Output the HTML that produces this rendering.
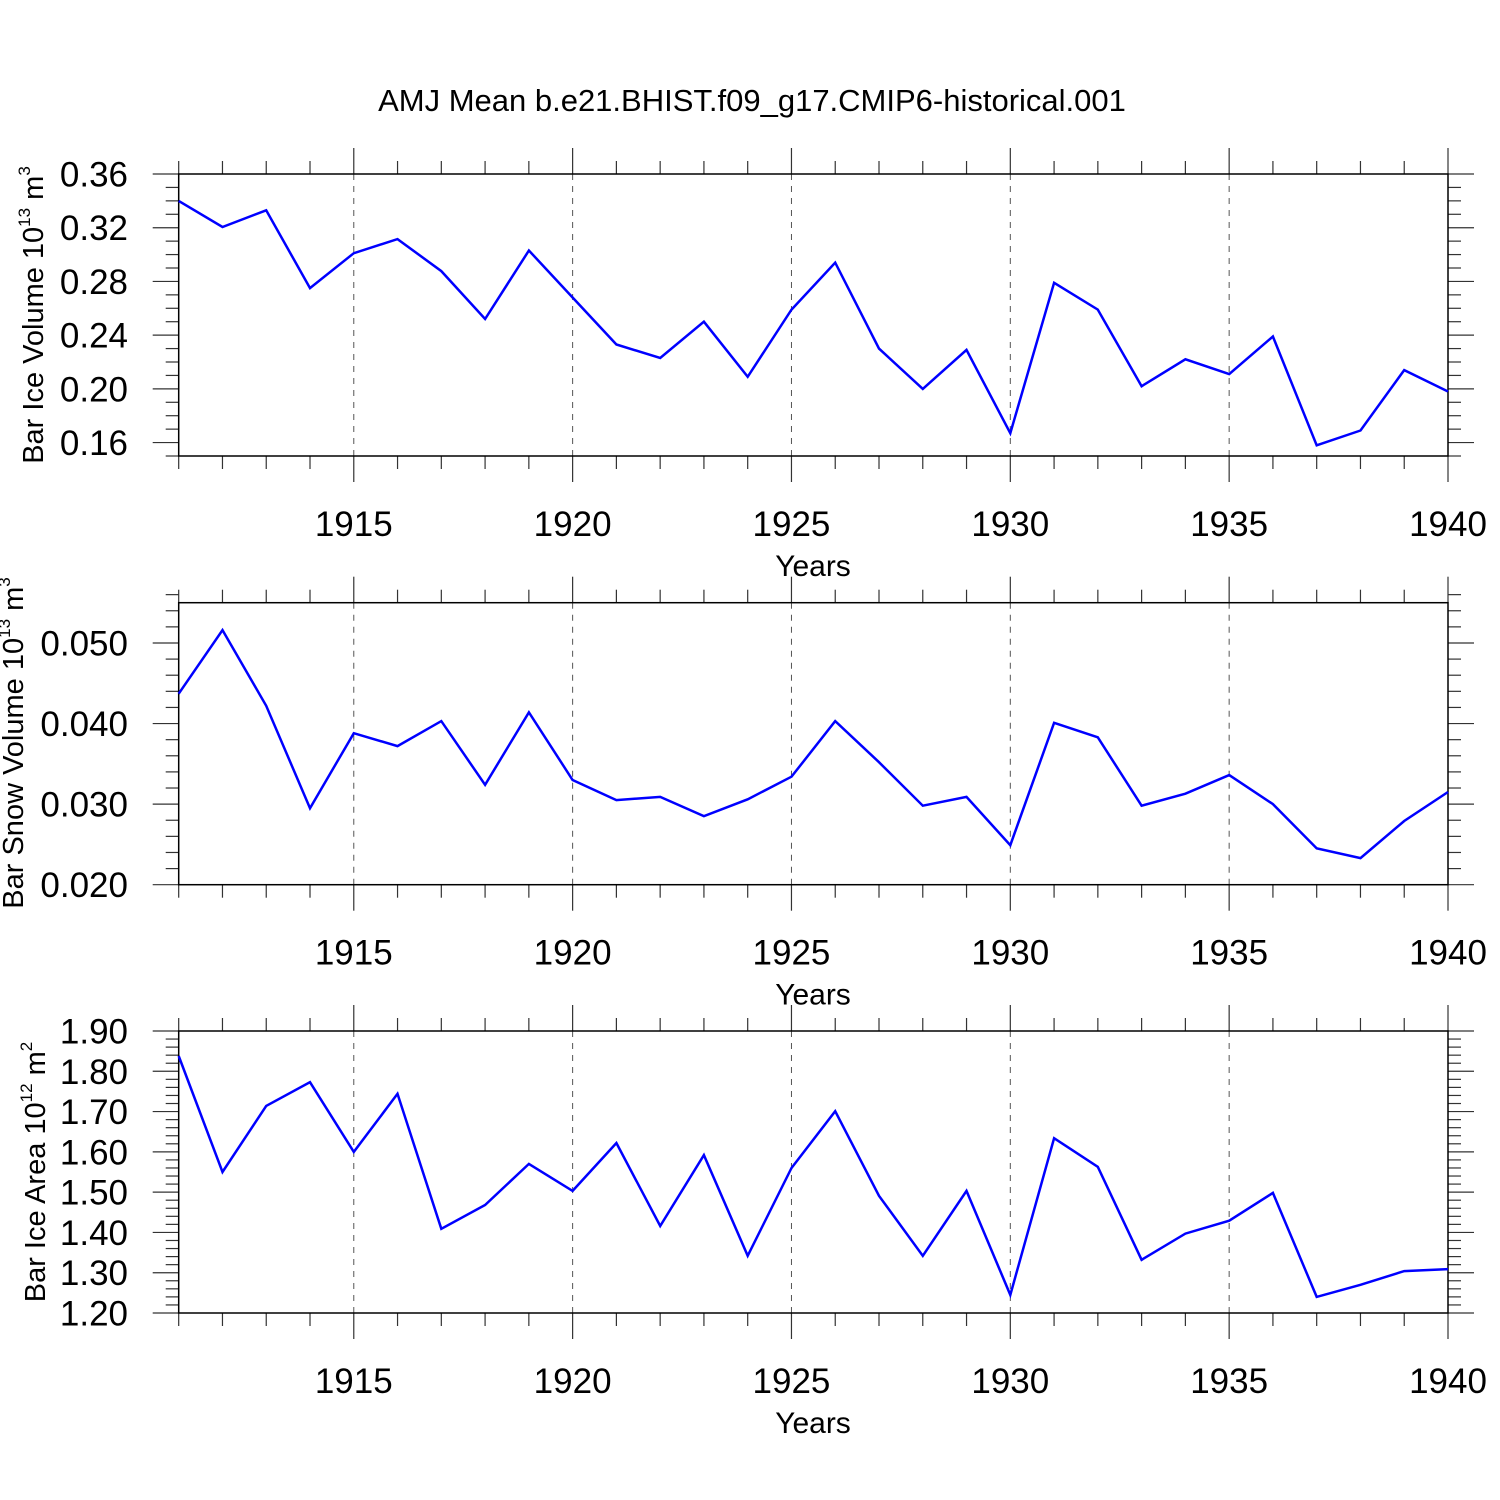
<!DOCTYPE html>
<html><head><meta charset="utf-8"><style>
html,body{margin:0;padding:0;background:#fff;}
svg{display:block;font-family:"Liberation Sans",Arial,sans-serif;}
</style></head><body>
<svg id="c" width="1500" height="1500" viewBox="0 0 1500 1500">
<text x="752" y="111" font-size="31" text-anchor="middle">AMJ Mean b.e21.BHIST.f09_g17.CMIP6-historical.001</text>
</svg>
<script>
const years = [1911,1912,1913,1914,1915,1916,1917,1918,1919,1920,1921,1922,1923,1924,1925,1926,1927,1928,1929,1930,1931,1932,1933,1934,1935,1936,1937,1938,1939,1940];
const iceVolume = [0.340,0.3205,0.333,0.275,0.301,0.3115,0.2877,0.252,0.303,0.268,0.233,0.223,0.250,0.209,0.259,0.294,0.230,0.200,0.229,0.167,0.279,0.259,0.202,0.222,0.211,0.239,0.158,0.169,0.214,0.198];
const snowVolume = [0.0437,0.0516,0.0422,0.0295,0.0388,0.0372,0.0403,0.0324,0.0414,0.0330,0.0305,0.0309,0.0285,0.0306,0.0334,0.0403,0.0352,0.0298,0.0309,0.0249,0.0401,0.0383,0.0298,0.0313,0.0336,0.0300,0.0245,0.0233,0.0279,0.0315];
const iceArea = [1.838,1.550,1.714,1.773,1.600,1.744,1.409,1.468,1.570,1.503,1.622,1.416,1.592,1.342,1.560,1.701,1.491,1.342,1.503,1.245,1.634,1.563,1.332,1.397,1.429,1.498,1.240,1.270,1.304,1.309];
const xTickLabels = [1915,1920,1925,1930,1935,1940];
const iceVolTicks = ["0.16","0.20","0.24","0.28","0.32","0.36"];
const snowVolTicks = ["0.020","0.030","0.040","0.050"];
const iceAreaTicks = ["1.20","1.30","1.40","1.50","1.60","1.70","1.80","1.90"];

const NS="http://www.w3.org/2000/svg";
const svg=document.getElementById('c');
function mk(tag,attrs,parent){const e=document.createElementNS(NS,tag);for(const k in attrs)e.setAttribute(k,attrs[k]);(parent||svg).appendChild(e);return e;}
const X0=178.7,X1=1448;
function xs(yr){return X0+(yr-1911)*(X1-X0)/29;}

function panel(cfg){
  const g=mk('g',{});
  
  
  const ys=v=>cfg.top+(cfg.ymax-v)*(cfg.bot-cfg.top)/(cfg.ymax-cfg.ymin);
  xTickLabels.forEach(yr=>{
    if(yr===1940)return;
    const l=mk('line',{x1:xs(yr),x2:xs(yr),y1:cfg.top,y2:cfg.bot,stroke:'#555','stroke-width':1,'stroke-dasharray':'6,6'},g);
    
    
  });
  years.forEach(yr=>{
    const major=yr%5===0, len=major?26:13, x=xs(yr);
    mk('line',{x1:x,x2:x,y1:cfg.top,y2:cfg.top-len,stroke:'#333','stroke-width':1.2},g);
    mk('line',{x1:x,x2:x,y1:cfg.bot,y2:cfg.bot+len,stroke:'#333','stroke-width':1.2},g);
  });
  const n=Math.round((cfg.ymax-cfg.ymin)/cfg.minor);
  for(let i=0;i<=n;i++){
    const v=cfg.ymin+i*cfg.minor, y=ys(v);
    const r=(v/cfg.major);const major=Math.abs(r-Math.round(r))<1e-6;
    const len=major?26:13;
    mk('line',{x1:X0,x2:X0-len,y1:y,y2:y,stroke:'#333','stroke-width':1.2},g);
    mk('line',{x1:X1,x2:X1+len,y1:y,y2:y,stroke:'#333','stroke-width':1.2},g);
  }
  const f=mk('rect',{x:X0,y:cfg.top,width:X1-X0,height:cfg.bot-cfg.top,fill:'none',stroke:'#000','stroke-width':1.5},g);
  
  
  cfg.ticks.forEach(t=>{
    const tx=mk('text',{x:128,y:ys(parseFloat(t))+12.5,'font-size':35,'text-anchor':'end'},g);
    tx.textContent=t;
    
    
  });
  xTickLabels.forEach(yr=>{
    const tx=mk('text',{x:xs(yr),y:cfg.bot+80,'font-size':35,'text-anchor':'middle'},g);
    tx.textContent=yr;
    
    
  });
  const xt=mk('text',{x:813,y:cfg.bot+120,'font-size':30,'text-anchor':'middle'},g);
  xt.textContent='Years';
  
  
  const yt=mk('text',{transform:`translate(${cfg.tx},${cfg.ty}) rotate(-90)`,'font-size':29,'text-anchor':'middle'},g);
  
  
  yt.innerHTML=cfg.title+' 10<tspan dy="-13" font-size="17">'+cfg.exp+'</tspan><tspan dy="13"> m</tspan><tspan dy="-13" font-size="17">'+cfg.unit+'</tspan>';
  const pts=cfg.data.map((v,i)=>xs(years[i]).toFixed(1)+','+ys(v).toFixed(1)).join(' ');
  const pl=mk('polyline',{points:pts,fill:'none',stroke:'#0000ff','stroke-width':2.5,'stroke-linejoin':'miter'},g);
  
  
}
panel({name:'ice-volume-panel',top:174,bot:456,ymin:0.15,ymax:0.36,minor:0.01,major:0.04,ticks:iceVolTicks,data:iceVolume,title:'Bar Ice Volume',exp:'13',unit:'3',tx:43,ty:315});
panel({name:'snow-volume-panel',top:602.7,bot:884.7,ymin:0.020,ymax:0.055,minor:0.002,major:0.01,ticks:snowVolTicks,data:snowVolume,title:'Bar Snow Volume',exp:'13',unit:'3',tx:23,ty:743});
panel({name:'ice-area-panel',top:1031,bot:1313,ymin:1.20,ymax:1.90,minor:0.02,major:0.1,ticks:iceAreaTicks,data:iceArea,title:'Bar Ice Area',exp:'12',unit:'2',tx:45,ty:1172});
</script>
</body></html>
